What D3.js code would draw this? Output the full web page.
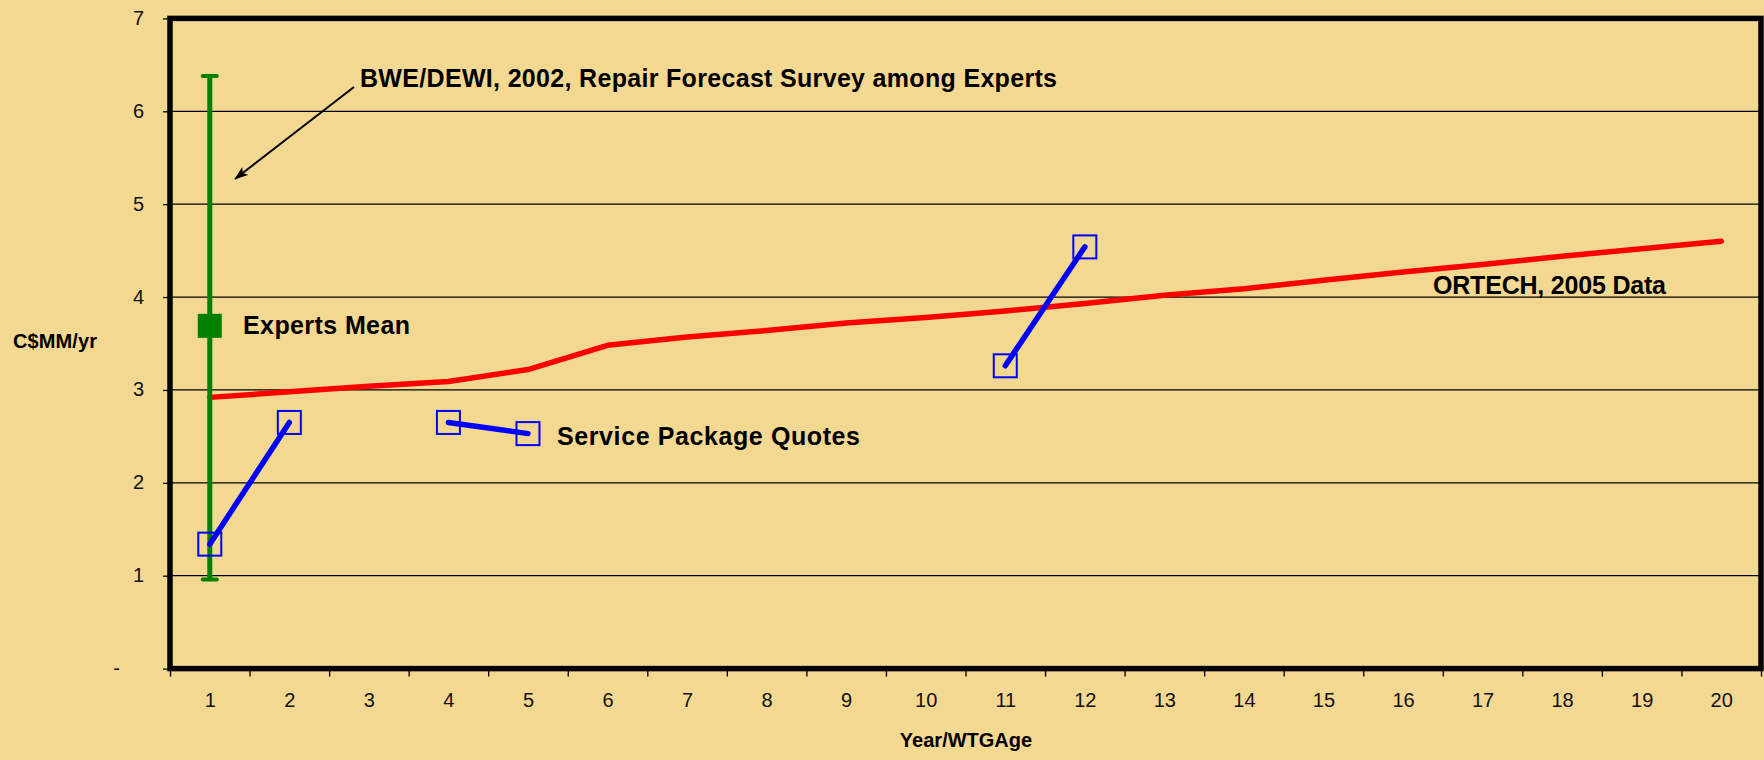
<!DOCTYPE html>
<html>
<head>
<meta charset="utf-8">
<script src="https://cdn.jsdelivr.net/npm/d3@7"></script>
<style>
  body { margin: 0; background: #F3D892; }
  svg { display: block; font-family: "Liberation Sans", Arial, sans-serif; }
  .label { font-weight: bold; fill: #000; }
</style>
</head>
<body>
<div id="chart"></div>
<script>
// chart data
var years = [1, 2, 3, 4, 5, 6, 7, 8, 9, 10, 11, 12, 13, 14, 15, 16, 17, 18, 19, 20];
var ortech = [2.92, 2.98, 3.04, 3.09, 3.22, 3.48, 3.57, 3.64, 3.72, 3.78,
              3.85, 3.93, 4.02, 4.09, 4.18, 4.27, 4.35, 4.44, 4.52, 4.60];

// service package quotes, drawn as three separate pairs
var quoteYears  = [[1, 2], [4, 5], [11, 12]];
var quoteValues = [[1.34, 2.65], [2.65, 2.53], [3.26, 4.54]];

// BWE/DEWI expert survey range and mean
var expertYear = 1;
var expertLow = 0.96;
var expertHigh = 6.38;
var expertMean = 3.69;

var yTicks = [0, 1, 2, 3, 4, 5, 6, 7];

var W = 1764, H = 760;
var plotLeft = 170, plotRight = 1761, plotTop = 18.4, plotBottom = 668.6;

var svg = d3.select("#chart")
            .append("svg")
            .attr("width", W)
            .attr("height", H);

var x = d3.scaleLinear()
    .domain([0.5, 20.5])
    .range([plotLeft, plotRight]);

var y = d3.scaleLinear()
    .domain([0, 7])
    .range([plotBottom, plotTop]);

// gridlines
svg.append("g")
    .selectAll("line")
    .data([1, 2, 3, 4, 5, 6])
    .enter()
    .append("line")
    .attr("x1", plotLeft)
    .attr("x2", plotRight)
    .attr("y1", function(d) { return y(d); })
    .attr("y2", function(d) { return y(d); })
    .style("stroke", "#000")
    .style("stroke-width", 1.2);

// y axis
var yAxis = svg.append("g")
    .attr("transform", "translate(" + plotLeft + ",0)")
    .call(d3.axisLeft(y).tickValues(yTicks).tickSize(7).tickPadding(19)
            .tickFormat(function(d) { return d == 0 ? "-" : d; }));
yAxis.select(".domain").remove();
yAxis.selectAll("line").style("stroke", "#000").style("stroke-width", 1.3);
yAxis.selectAll("text")
    .style("font-size", "20px")
    .style("fill", "#111")
    .attr("dy", "0.3em")
    .filter(function(d) { return d == 0; })
    .attr("x", -50);

// x axis: labels at year centres, tick marks on the boundaries
var xLabels = svg.append("g")
    .attr("transform", "translate(0," + plotBottom + ")")
    .call(d3.axisBottom(x).tickValues(years).tickSize(0).tickPadding(24));
xLabels.select(".domain").remove();
xLabels.selectAll("text").style("font-size", "20px").style("fill", "#111");

var xTicks = svg.append("g")
    .attr("transform", "translate(0," + plotBottom + ")")
    .call(d3.axisBottom(x).tickValues(d3.range(0.5, 21, 1)).tickSize(8).tickFormat(""));
xTicks.select(".domain").remove();
xTicks.selectAll("line").style("stroke", "#000").style("stroke-width", 1.3);

// plot frame
svg.append("rect")
    .attr("x", plotLeft)
    .attr("y", plotTop)
    .attr("width", plotRight - plotLeft)
    .attr("height", plotBottom - plotTop)
    .style("fill", "none")
    .style("stroke", "#000")
    .style("stroke-width", 5.5);

// ORTECH line
var line = d3.line()
    .x(function(d, i) { return x(years[i]); })
    .y(function(d) { return y(d); });

svg.append("path")
    .datum(ortech)
    .attr("d", line)
    .style("fill", "none")
    .style("stroke", "#FF0000")
    .style("stroke-width", 5.5)
    .style("stroke-linecap", "round")
    .style("stroke-linejoin", "round");

// expert range bar
svg.append("line")
    .attr("x1", x(expertYear)).attr("x2", x(expertYear))
    .attr("y1", y(expertLow)).attr("y2", y(expertHigh))
    .style("stroke", "#008000")
    .style("stroke-width", 5);

svg.selectAll("cap")
    .data([expertLow, expertHigh])
    .enter()
    .append("line")
    .attr("x1", x(expertYear) - 7).attr("x2", x(expertYear) + 7)
    .attr("y1", function(d) { return y(d); })
    .attr("y2", function(d) { return y(d); })
    .style("stroke", "#008000")
    .style("stroke-width", 4)
    .style("stroke-linecap", "round");

svg.append("rect")
    .attr("x", x(expertYear) - 12)
    .attr("y", y(expertMean) - 12)
    .attr("width", 24)
    .attr("height", 24)
    .style("fill", "#008000");

// service package quotes
for (var k = 0; k < quoteYears.length; k++) {
    var pts = quoteYears[k].map(function(d, i) { return [x(d), y(quoteValues[k][i])]; });

    svg.append("path")
        .attr("d", d3.line()(pts))
        .style("stroke", "#0000FF")
        .style("stroke-width", 5.5)
        .style("stroke-linecap", "round");

    svg.append("g")
        .selectAll("rect")
        .data(pts)
        .enter()
        .append("rect")
        .attr("x", function(d) { return d[0] - 11.5; })
        .attr("y", function(d) { return d[1] - 11.5; })
        .attr("width", 23)
        .attr("height", 23)
        .style("fill", "none")
        .style("stroke", "#0000FF")
        .style("stroke-width", 2);
}

// arrow pointing at the survey range
svg.append("defs").append("marker")
    .attr("id", "head")
    .attr("viewBox", "0 0 14 10")
    .attr("refX", 13)
    .attr("refY", 5)
    .attr("markerWidth", 14)
    .attr("markerHeight", 10)
    .attr("markerUnits", "userSpaceOnUse")
    .attr("orient", "auto")
    .append("path")
    .attr("d", "M0,0 L14,5 L0,10 L3,5 Z")
    .style("fill", "#000");

svg.append("line")
    .attr("x1", 354).attr("y1", 87)
    .attr("x2", 235).attr("y2", 179)
    .style("stroke", "#000")
    .style("stroke-width", 2)
    .attr("marker-end", "url(#head)");

// annotations
function label(txt, px, py, size, len, anchor) {
    var t = svg.append("text")
        .attr("class", "label")
        .attr("x", px)
        .attr("y", py)
        .style("font-size", size + "px")
        .style("text-anchor", anchor || "start")
        .text(txt);
    if (len) t.attr("textLength", len).attr("lengthAdjust", "spacing");
    return t;
}

label("BWE/DEWI, 2002, Repair Forecast Survey among Experts", 360, 87, 25, 697);
label("Experts Mean", 243, 334, 25, 167);
label("Service Package Quotes", 557, 445, 25, 303);
label("ORTECH, 2005 Data", 1433, 294, 25, 233);
label("C$MM/yr", 13, 348, 20, 84);
label("Year/WTGAge", 966, 747, 20, null, "middle");
</script>
</body>
</html>
